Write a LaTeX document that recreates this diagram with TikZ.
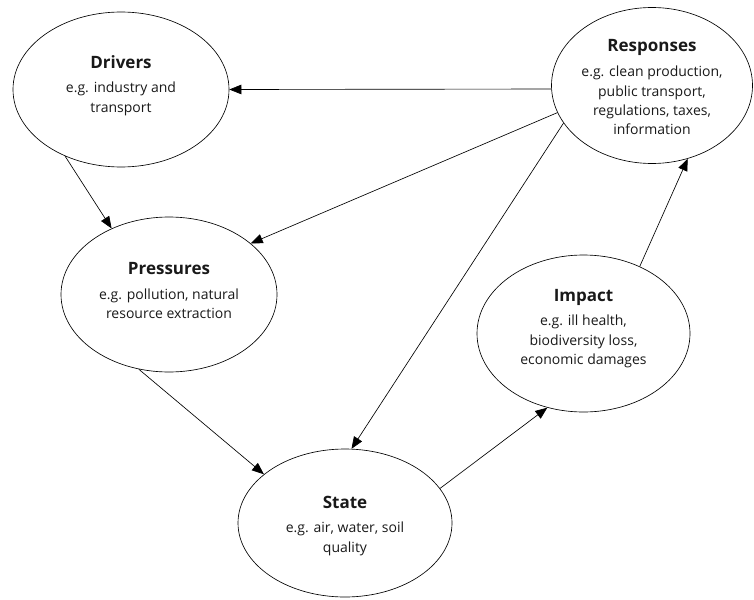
\documentclass[tikz,border=0pt]{standalone}
\usepackage{fontspec}
\setmainfont{Open Sans}
\usetikzlibrary{shapes.geometric,arrows.meta}

\tikzset{
    stage/.style={draw, ellipse, inner sep=0pt,
        minimum width=216pt, minimum height=155pt},
    blurb/.style={align=center, text=black!90,
        font=\fontsize{14}{19.5}\selectfont},
}
\newcommand{\hd}[1]{{\fontsize{17}{19.5}\selectfont\bfseries #1}}

\begin{document}
\begin{tikzpicture}[x=1pt, y=-1pt, line width=0.65pt,
        >={Triangle[length=12pt,width=9.5pt]}]
    \useasboundingbox (0,0) rectangle (754,599);
    % Ellipses
    \node [stage] (drv) at (121,89.5) {};
    \node [stage, minimum width=201pt, minimum height=156pt] (resp) at (652,85.5) {};
    \node [stage] (press) at (169,294.5) {};
    \node [stage, minimum width=213pt, minimum height=157pt] (imp) at (583.5,333.5) {};
    \node [stage, minimum width=214pt, minimum height=148pt] (state) at (345,523) {};
    % Labels
    \node [blurb, yshift=4pt] (drvtxt) at (drv)
        {\hd{Drivers}\\[5pt] e.g. industry and\\ transport};
    \node [blurb, yshift=-2pt] (resptxt) at (resp)
        {\hd{Responses}\\[5pt] e.g. clean production,\\ public transport,\\ regulations, taxes,\\ information};
    \node [blurb, yshift=4pt] (presstxt) at (press)
        {\hd{Pressures}\\[5pt] e.g. pollution, natural\\ resource extraction};
    \node [blurb, yshift=5pt] (imptxt) at (imp)
        {\hd{Impact}\\[5pt] e.g. ill health,\\ biodiversity loss,\\ economic damages};
    \node [blurb, yshift=-3pt] (statetxt) at (state)
        {\hd{State}\\[5pt] e.g. air, water, soil\\ quality};
    % Arrows
    \draw [->] (resp.182) -- (drv.east);
    \draw [->] (resp.196) -- (press.32);
    \draw [->] (resp.203) -- (state.85);
    \draw [->] (drv.230) -- (press.131.5);
    \draw [->] (press.248.5) -- (state.149);
    \draw [->] (state.20.6) -- (imp.244);
    \draw [->] (imp.50) -- (resp.296.7);
\end{tikzpicture}
\end{document}
